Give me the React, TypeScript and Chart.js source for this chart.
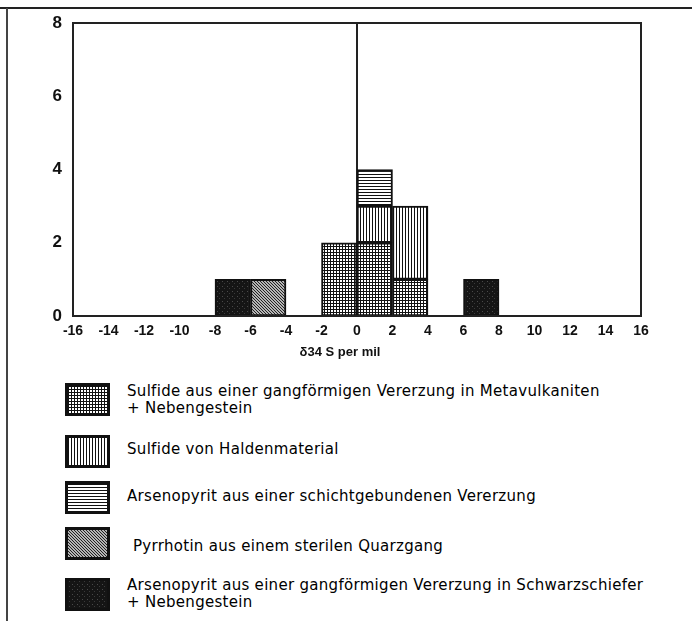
import React, { useEffect, useRef } from "react";
import { Chart, registerables } from "chart.js";

Chart.register(...registerables);

// Bin centres (bins are 2 per mil wide, from -16 to 16)
const binLabels = ["-15", "-13", "-11", "-9", "-7", "-5", "-3", "-1", "1", "3", "5", "7", "9", "11", "13", "15"];
const xTickValues = [-16, -14, -12, -10, -8, -6, -4, -2, 0, 2, 4, 6, 8, 10, 12, 14, 16];
const yTickValues = [0, 2, 4, 6, 8];

const seriesNames = [
  "Sulfide aus einer gangförmigen Vererzung in Metavulkaniten",
  "Sulfide von Haldenmaterial",
  "Arsenopyrit aus einer schichtgebundenen Vererzung",
  "Pyrrhotin aus einem sterilen Quarzgang",
  "Arsenopyrit aus einer gangförmigen Vererzung in Schwarzschiefer",
];
const metavulkanit = [null, null, null, null, null, null, null, 2, 2, 1, null, null, null, null, null, null];
const haldenmaterial = [null, null, null, null, null, null, null, null, 1, 2, null, null, null, null, null, null];
const schichtgebunden = [null, null, null, null, null, null, null, null, 1, null, null, null, null, null, null, null];
const pyrrhotin = [null, null, null, null, null, 1, null, null, null, null, null, null, null, null, null, null];
const schwarzschiefer = [null, null, null, null, 1, null, null, null, null, null, null, 1, null, null, null, null];

const xTitle = "δ34 S per mil";

type Kind = "grid" | "vertical" | "horizontal" | "diagonal" | "dark";
const kinds: Kind[] = ["grid", "vertical", "horizontal", "diagonal", "dark"];

function makeTile(kind: Kind): HTMLCanvasElement {
  const c = document.createElement("canvas");
  const px = (ctx: CanvasRenderingContext2D, x: number, y: number, col: string) => {
    ctx.fillStyle = col;
    ctx.fillRect(x, y, 1, 1);
  };
  if (kind === "grid") {
    c.width = 3; c.height = 3;
    const ctx = c.getContext("2d")!;
    ctx.fillStyle = "#ffffff"; ctx.fillRect(0, 0, 3, 3);
    ctx.fillStyle = "#111"; ctx.fillRect(0, 0, 3, 1); ctx.fillRect(0, 0, 1, 3);
  } else if (kind === "vertical") {
    c.width = 3; c.height = 1;
    const ctx = c.getContext("2d")!;
    ctx.fillStyle = "#ffffff"; ctx.fillRect(0, 0, 3, 1);
    px(ctx, 0, 0, "#111");
  } else if (kind === "horizontal") {
    c.width = 1; c.height = 3;
    const ctx = c.getContext("2d")!;
    ctx.fillStyle = "#ffffff"; ctx.fillRect(0, 0, 1, 3);
    px(ctx, 0, 0, "#111");
  } else if (kind === "diagonal") {
    c.width = 3; c.height = 3;
    const ctx = c.getContext("2d")!;
    ctx.fillStyle = "#b5b5b5"; ctx.fillRect(0, 0, 3, 3);
    px(ctx, 0, 0, "#222"); px(ctx, 1, 1, "#222"); px(ctx, 2, 2, "#222");
  } else {
    c.width = 5; c.height = 5;
    const ctx = c.getContext("2d")!;
    ctx.fillStyle = "#151515"; ctx.fillRect(0, 0, 5, 5);
    px(ctx, 2, 1, "#4a4a4a"); px(ctx, 4, 3, "#3a3a3a");
  }
  return c;
}

function Swatch({ kind, top }: { kind: Kind; top: number }) {
  const ref = useRef<HTMLCanvasElement | null>(null);
  useEffect(() => {
    const cv = ref.current!;
    const ctx = cv.getContext("2d")!;
    const pat = ctx.createPattern(makeTile(kind), "repeat")!;
    ctx.fillStyle = pat;
    ctx.fillRect(0, 0, cv.width, cv.height);
    ctx.strokeStyle = "#111";
    ctx.lineWidth = 3;
    ctx.strokeRect(1.5, 1.5, cv.width - 3, cv.height - 3);
  }, [kind]);
  return (
    <canvas
      ref={ref}
      width={45}
      height={33}
      style={{ position: "absolute", left: 65, top, width: 45, height: 33 }}
    />
  );
}

const frameBorder = {
  id: "frameBorder",
  afterDraw(chart: any) {
    const { ctx, chartArea } = chart;
    ctx.save();
    ctx.strokeStyle = "#222";
    ctx.lineWidth = 2;
    ctx.strokeRect(chartArea.left, chartArea.top, chartArea.right - chartArea.left, chartArea.bottom - chartArea.top);
    ctx.restore();
  },
};

export default function App() {
  const canvasRef = useRef<HTMLCanvasElement | null>(null);

  useEffect(() => {
    const cv = canvasRef.current!;
    const ctx = cv.getContext("2d")!;
    const pats = kinds.map((k) => ctx.createPattern(makeTile(k), "repeat")!);
    const values = [metavulkanit, haldenmaterial, schichtgebunden, pyrrhotin, schwarzschiefer];
    const chart = new Chart(cv, {
      type: "bar",
      data: {
        labels: binLabels,
        datasets: values.map((v, i) => ({
          label: seriesNames[i],
          data: v as any,
          backgroundColor: pats[i] as any,
          borderColor: "#111",
          borderWidth: 2,
          borderSkipped: false,
          barPercentage: 1,
          categoryPercentage: 1,
          xAxisID: "x",
          yAxisID: "y",
        })),
      },
      options: {
        animation: false,
        responsive: false,
        maintainAspectRatio: false,
        layout: { padding: { top: 23, right: 51, left: 0, bottom: 0 } },
        plugins: { legend: { display: false }, tooltip: { enabled: false } },
        scales: {
          x: {
            type: "category",
            display: false,
            stacked: true,
            offset: true,
          },
          x2: {
            type: "linear",
            position: "bottom",
            min: -16,
            max: 16,
            offset: false,
            afterBuildTicks: (axis: any) => {
              axis.ticks = xTickValues.map((v) => ({ value: v }));
            },
            afterFit: (axis: any) => {
              axis.height = 49;
            },
            ticks: {
              color: "#111",
              padding: 7,
              autoSkip: false,
              maxRotation: 0,
              font: { family: "Liberation Sans", weight: "bold", size: 14 },
              callback: (v: any) => String(v),
            },
            grid: {
              offset: false,
              drawTicks: false,
              color: (c: any) => (c.tick && c.tick.value === 0 ? "#222" : "rgba(0,0,0,0)"),
              lineWidth: 2,
            },
            border: { display: true, color: "#222", width: 2 },
          },
          y: {
            type: "linear",
            stacked: true,
            min: 0,
            max: 8,
            afterBuildTicks: (axis: any) => {
              axis.ticks = yTickValues.map((v) => ({ value: v }));
            },
            afterFit: (axis: any) => {
              axis.width = 73;
            },
            ticks: {
              color: "#111",
              padding: 11,
              font: { family: "Liberation Sans", weight: "bold", size: 17 },
              callback: (v: any) => String(v),
            },
            grid: { display: false, drawTicks: false },
            border: { display: true, color: "#222", width: 2 },
          },
        },
      },
      plugins: [frameBorder],
    });
    return () => chart.destroy();
  }, []);

  const textStyle: React.CSSProperties = {
    position: "absolute",
    fontFamily: "'DejaVu Sans', sans-serif",
    fontSize: 15,
    letterSpacing: "0.3px",
    lineHeight: "17px",
    color: "#000",
    whiteSpace: "nowrap",
  };

  return (
    <div
      style={{
        position: "absolute",
        left: 0,
        top: 0,
        width: 692,
        height: 621,
        background: "#fff",
        overflow: "hidden",
      }}
    >
      <div style={{ position: "absolute", left: 0, top: 7, width: 692, height: 2, background: "#222" }} />
      <div style={{ position: "absolute", left: 6, top: 8, width: 2, height: 613, background: "#444" }} />
      <canvas
        ref={canvasRef}
        width={692}
        height={365}
        style={{ position: "absolute", left: 0, top: 0, width: 692, height: 365 }}
      />
      <div
        style={{
          position: "absolute",
          left: 240,
          width: 200,
          top: 344,
          textAlign: "center",
          fontFamily: "'Liberation Sans', sans-serif",
          fontWeight: "bold",
          fontSize: 13,
          lineHeight: "16px",
          color: "#111",
        }}
      >
        {xTitle}
      </div>

      <Swatch kind="grid" top={383} />
      <div style={{ ...textStyle, left: 127, top: 383 }}>
        {seriesNames[0]}
        <br />+ Nebengestein
      </div>

      <Swatch kind="vertical" top={435} />
      <div style={{ ...textStyle, left: 127, top: 441 }}>{seriesNames[1]}</div>

      <Swatch kind="horizontal" top={481} />
      <div style={{ ...textStyle, left: 127, top: 488 }}>{seriesNames[2]}</div>

      <Swatch kind="diagonal" top={527} />
      <div style={{ ...textStyle, left: 133, top: 538 }}>{seriesNames[3]}</div>

      <Swatch kind="dark" top={578} />
      <div style={{ ...textStyle, left: 127, top: 577 }}>
        {seriesNames[4]}
        <br />+ Nebengestein
      </div>
    </div>
  );
}
